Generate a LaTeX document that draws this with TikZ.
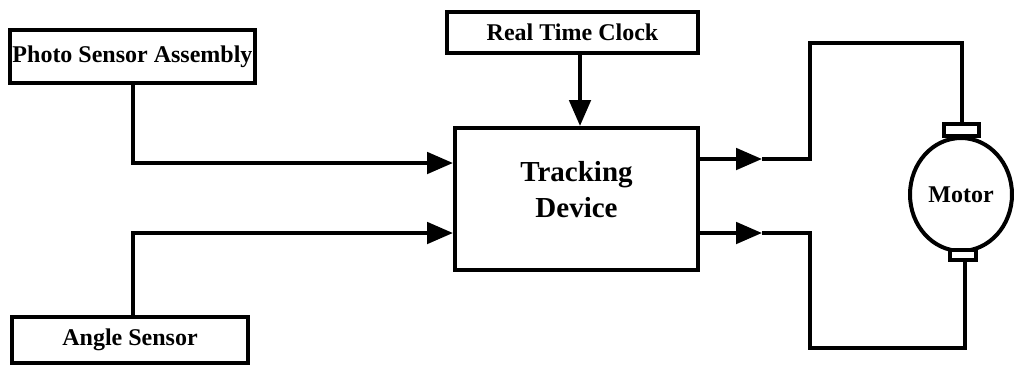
\documentclass[tikz,border=0pt]{standalone}
\usepackage{fontspec}
\setmainfont{Liberation Serif}
\usetikzlibrary{arrows.meta,shapes.geometric}
\begin{document}
\begin{tikzpicture}[x=0.75pt,y=-0.75pt,
  wire/.style={line width=3pt, line join=miter},
  arr/.style={wire, -{Triangle[length=19.5pt,width=16pt]}},
  blk/.style={draw, line width=3pt, fill=white, inner sep=0pt,
    font=\bfseries\fontsize{18pt}{22pt}\selectfont},
  brush/.style={draw, line width=3pt, fill=white, inner sep=0pt}]
\useasboundingbox (0,0) rectangle (1014,365);
% blocks
\node[blk, minimum width=183.75pt, minimum height=39.75pt] (ps) at (132.5,56.5) {Photo Sensor Assembly};
\node[blk, minimum width=188.25pt, minimum height=30.75pt] (rtc) at (572.5,32.5) {Real Time Clock};
\node[blk, minimum width=177pt, minimum height=34.5pt] (as) at (130,340) {Angle Sensor};
\node[blk, minimum width=182.25pt, minimum height=106.5pt,
  label={[font=\bfseries\fontsize{21.75pt}{27pt}\selectfont, align=center, yshift=6.75pt]center:{Tracking\\Device}}] (td) at (576.5,199) {};
% motor
\node[draw, ellipse, line width=3pt, inner sep=0pt, minimum width=76.5pt, minimum height=84.75pt,
  font=\bfseries\fontsize{18pt}{22pt}\selectfont] (m) at (961,194.5) {Motor};
\node[brush, minimum width=26.25pt, minimum height=9pt] (bt) at (961.5,130) {};
\node[brush, minimum width=19.5pt, minimum height=7.5pt] (bb) at (963,255) {};
% coordinates
\coordinate (p1) at (133,163);
\coordinate (a1) at (133,233);
\coordinate (r1) at (580,53);
\coordinate (o1) at (762,159);
\coordinate (o2) at (762,233);
% inputs
\draw[arr] (ps.south -| p1) -- (p1) -- (td.west |- p1);
\draw[arr] (as.north -| a1) -- (a1) -- (td.west |- a1);
\draw[arr] (rtc.south -| r1) -- (td.north -| r1);
% outputs
\draw[arr] (td.east |- o1) -- (o1);
\draw[arr] (td.east |- o2) -- (o2);
\draw[wire] (o1) -- (810,159) -- (810,43) -- (962,43) -- (bt.north -| 962,0);
\draw[wire] (o2) -- (810,233) -- (810,348) -- (965,348) -- (bb.south -| 965,0);
\end{tikzpicture}
\end{document}
